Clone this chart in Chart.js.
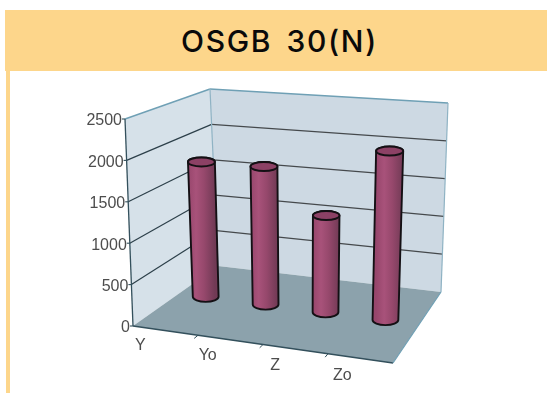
<!DOCTYPE html>
<html>
<head>
<meta charset="utf-8">
<title>OSGB 30(N)</title>
<script src="https://cdn.jsdelivr.net/npm/chart.js@4"></script>
<style>
  html, body { margin: 0; padding: 0; background: #fff; }
  #wrap { position: relative; width: 547px; height: 393px; overflow: hidden; }
  #band { position: absolute; left: 5px; top: 10px; right: 0; height: 61px; background: #fdd68b;
          font: 500 30px Inter, "Liberation Sans", sans-serif; letter-spacing: 1.6px; word-spacing: 5px;
          color: #0a0a0a; text-align: center; line-height: 62px; padding-left: 7px; box-sizing: border-box; }
  #stripe { position: absolute; left: 6px; top: 71px; width: 4px; bottom: 0; background: #fdd68b; }
  #chart { position: absolute; left: 0; top: 0; }
</style>
</head>
<body>
<div id="wrap">
  <div id="band">OSGB 30(N)</div>
  <div id="stripe"></div>
  <canvas id="chart" width="547" height="393"></canvas>
</div>
<script>
const categories = ['Y', 'Yo', 'Z', 'Zo'];
const values = [1750, 1750, 1200, 2050];
const yMax = 2500;
const yStep = 500;

// corners of the 3D box on screen, u = left/right, v = bottom/top, d = front/back
const box = {
  fl0: [133, 326], fl1: [125, 119],
  fr0: [393, 363], fr1: [400, 131],
  bl0: [218, 266], bl1: [210, 89],
  br0: [441, 292], br1: [448, 103]
};
const barDepth = 0.55;
const barNudge = -4; // the cylinders stand a bit left of the category centres

function project(u, v, d) {
  const out = [0, 0];
  for (let i = 0; i < 2; i++) {
    const front0 = box.fl0[i] + (box.fr0[i] - box.fl0[i]) * u;
    const front1 = box.fl1[i] + (box.fr1[i] - box.fl1[i]) * u;
    const back0 = box.bl0[i] + (box.br0[i] - box.bl0[i]) * u;
    const back1 = box.bl1[i] + (box.br1[i] - box.bl1[i]) * u;
    const front = front0 + (front1 - front0) * v;
    const back = back0 + (back1 - back0) * v;
    out[i] = front + (back - front) * d;
  }
  return out;
}

function poly(ctx, pts, fill) {
  ctx.beginPath();
  pts.forEach((p, i) => i ? ctx.lineTo(p[0], p[1]) : ctx.moveTo(p[0], p[1]));
  ctx.closePath();
  ctx.fillStyle = fill;
  ctx.fill();
}

function seg(ctx, a, b, color, w) {
  ctx.beginPath();
  ctx.moveTo(a[0], a[1]);
  ctx.lineTo(b[0], b[1]);
  ctx.strokeStyle = color;
  ctx.lineWidth = w;
  ctx.stroke();
}

const box3d = {
  id: 'box3d',
  // walls, floor, gridlines and axis labels
  beforeDatasetsDraw(chart) {
    const ctx = chart.ctx;
    const yScale = chart.scales.y;
    const xScale = chart.scales.x;
    const area = chart.chartArea;
    const vOf = val => (area.bottom - yScale.getPixelForValue(val)) / (area.bottom - area.top);
    const uOf = px => (px - area.left) / (area.right - area.left);
    ctx.save();

    poly(ctx, [box.fl0, box.fl1, box.bl1, box.bl0], '#d6e1e9');
    poly(ctx, [box.bl0, box.bl1, box.br1, box.br0], '#cdd9e3');
    poly(ctx, [box.fl0, box.bl0, box.br0, box.fr0], '#8ca2ac');

    // gridlines follow the y ticks round both walls
    yScale.ticks.forEach(t => {
      const v = vOf(t.value);
      if (t.value > 0 && t.value < yMax) {
        seg(ctx, project(0, v, 0), project(0, v, 1), '#2c3f49', 1.2);
        seg(ctx, project(0, v, 1), project(1, v, 1), '#45494c', 1.2);
      }
    });

    seg(ctx, box.fl1, box.bl1, '#6fa0b5', 1.4);
    seg(ctx, box.bl1, box.br1, '#6fa0b5', 1.4);
    seg(ctx, box.br1, box.br0, '#8fb3c4', 1.2);
    seg(ctx, box.bl1, box.bl0, '#8fb3c4', 1.2);
    seg(ctx, box.fl1, box.fl0, '#33505c', 1.3);
    seg(ctx, box.fl0, box.fr0, '#33505c', 1.3);
    seg(ctx, box.fr0, box.br0, '#6fa0b5', 1.2);

    // y labels sit against the slanted front edge
    ctx.font = '16px "Liberation Sans", Arial, sans-serif';
    ctx.fillStyle = '#4d4d4d';
    ctx.textAlign = 'right';
    ctx.textBaseline = 'middle';
    yScale.ticks.forEach(t => {
      const p = project(0, vOf(t.value), 0);
      seg(ctx, p, [p[0] - 3, p[1]], '#33505c', 1.1);
      ctx.fillText(String(t.value), p[0] - 3, p[1] + 2);
    });

    // category ticks and labels in front of the floor
    ctx.font = '16px "Liberation Sans", Arial, sans-serif';
    ctx.textAlign = 'center';
    categories.forEach((c, i) => {
      const u = uOf(xScale.getPixelForValue(i));
      const p = project(u, 0, -0.25);
      ctx.fillText(c, p[0] - 5, p[1]);
      if (i > 0) {
        const ut = i / categories.length;
        seg(ctx, project(ut, 0, 0), project(ut, 0, -0.05), '#33505c', 1);
      }
    });
    ctx.restore();
  },
  // cylinders on top of the (invisible) native bars
  afterDatasetsDraw(chart) {
    const ctx = chart.ctx;
    const area = chart.chartArea;
    const w = area.right - area.left;
    const h = area.bottom - area.top;
    ctx.save();
    chart.getDatasetMeta(0).data.forEach(bar => {
      const u = (bar.x - area.left) / w;
      const half = bar.width / 2 / w;
      const vTop = (area.bottom - bar.y) / h;
      const vBase = (area.bottom - bar.base) / h;
      const tl = project(u - half, vTop, barDepth);
      const tr = project(u + half, vTop, barDepth);
      const bl = project(u - half, vBase, barDepth);
      const br = project(u + half, vBase, barDepth);
      const topC = [(tl[0] + tr[0]) / 2 + barNudge, (tl[1] + tr[1]) / 2];
      const botC = [(bl[0] + br[0]) / 2 + barNudge, (bl[1] + br[1]) / 2];
      const rxT = (tr[0] - tl[0]) / 2;
      const rxB = (br[0] - bl[0]) / 2;

      const grad = ctx.createLinearGradient(topC[0] - rxT, 0, topC[0] + rxT, 0);
      grad.addColorStop(0, '#97466c');
      grad.addColorStop(0.3, '#a8527a');
      grad.addColorStop(0.6, '#96486c');
      grad.addColorStop(1, '#713a55');

      ctx.beginPath();
      ctx.moveTo(topC[0] - rxT, topC[1]);
      ctx.lineTo(botC[0] - rxB, botC[1]);
      ctx.ellipse(botC[0], botC[1], rxB, 5, 0, Math.PI, 0, true);
      ctx.lineTo(topC[0] + rxT, topC[1]);
      ctx.ellipse(topC[0], topC[1], rxT, 4.5, 0, 0, Math.PI, true);
      ctx.closePath();
      ctx.fillStyle = grad;
      ctx.fill();
      ctx.strokeStyle = '#141014';
      ctx.lineWidth = 1.9;
      ctx.stroke();

      ctx.beginPath();
      ctx.ellipse(topC[0], topC[1], rxT, 4.5, 0, 0, Math.PI * 2);
      ctx.fillStyle = '#8c4165';
      ctx.fill();
      ctx.stroke();
    });
    ctx.restore();
  }
};

new Chart(document.getElementById('chart'), {
  type: 'bar',
  data: {
    labels: categories,
    datasets: [{
      data: values,
      backgroundColor: 'rgba(0,0,0,0)',
      barPercentage: 0.43,
      categoryPercentage: 1
    }]
  },
  options: {
    responsive: false,
    animation: false,
    events: [],
    layout: { padding: { left: 125, top: 119, right: 99, bottom: 30 } },
    plugins: { legend: { display: false }, tooltip: { enabled: false } },
    scales: {
      x: { display: false },
      y: { display: false, min: 0, max: yMax, ticks: { stepSize: yStep } }
    }
  },
  plugins: [box3d]
});
</script>
</body>
</html>
